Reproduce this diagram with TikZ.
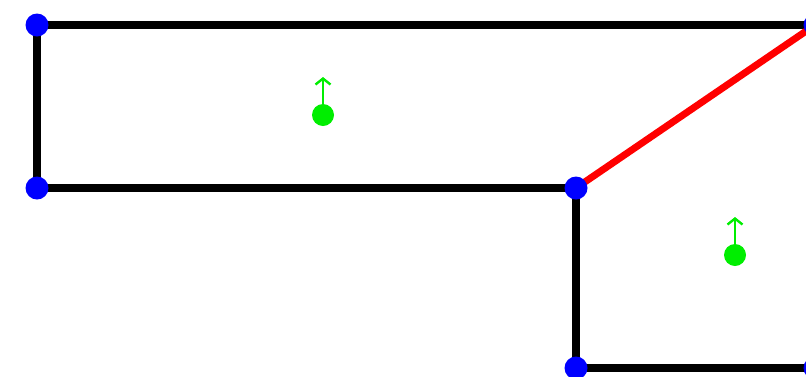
\documentclass[tikz,border=0pt]{standalone}
\usetikzlibrary{arrows.meta}
\definecolor{vblue}{RGB}{0,0,255}
\definecolor{ered}{RGB}{255,0,0}
\definecolor{cgreen}{RGB}{0,238,0}
\tikzset{
  edge/.style={line width=7.5pt, black},
  cutedge/.style={line width=7pt, ered},
  vertex/.style={circle, fill=vblue, inner sep=0pt, minimum size=23pt},
  centroid/.style={circle, fill=cgreen, inner sep=0pt, minimum size=22pt},
  normalarrow/.style={cgreen, line width=2.4pt, -{Straight Barb[length=6pt,width=15pt]}}
}
\begin{document}
\begin{tikzpicture}[x=1pt,y=-1pt]
  \useasboundingbox[fill=white] (0,0) rectangle (806,376);
  % polygon vertices
  \coordinate (p1) at (37,25);
  \coordinate (p2) at (815,25);
  \coordinate (p3) at (576,188);
  \coordinate (p4) at (37,188);
  \coordinate (p5) at (576,368);
  \coordinate (p6) at (815,368);
  % outline edges
  \draw[edge] (p4) -- (p1) -- (p2);
  \draw[edge] (p4) -- (p3) -- (p5) -- (p6);
  % splitting edge
  \draw[cutedge] (p3) -- (p2);
  % vertices
  \foreach \p in {p1,p2,p3,p4,p5,p6}
    \node[vertex] (d\p) at (\p) {};
  % face centroids with their normals
  \coordinate (t1) at (323,77);
  \coordinate (t2) at (735,217);
  \draw[normalarrow] (323,110) -- (t1);
  \draw[normalarrow] (735,250) -- (t2);
  \node[centroid] (c1) at (323,115) {};
  \node[centroid] (c2) at (735,255) {};
\end{tikzpicture}
\end{document}
